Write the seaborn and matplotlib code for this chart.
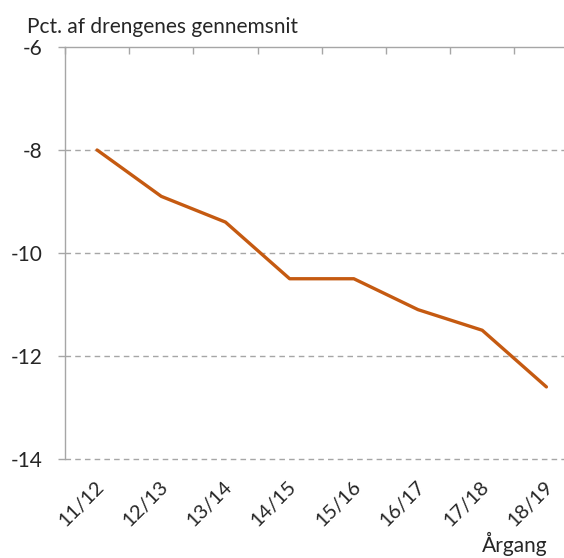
import numpy as np
import pandas as pd
import matplotlib
matplotlib.use("Agg")
import matplotlib.pyplot as plt
import matplotlib.transforms as mtransforms
from matplotlib.ticker import FixedLocator
import seaborn as sns

# data
years = ['11/12', '12/13', '13/14', '14/15', '15/16', '16/17', '17/18', '18/19']
values = [-8.0, -8.9, -9.4, -10.5, -10.5, -11.1, -11.5, -12.6]
y_ticks = [-14, -12, -10, -8, -6]

df = pd.DataFrame({'year': years, 'value': values})

sns.set_style("white")
plt.rcParams['font.family'] = ['Lato', 'DejaVu Sans']

fig = plt.figure(figsize=(5.64, 5.58), dpi=100)
ax = fig.add_axes([0.1152, 0.1774, 0.9105, 0.7384])

sns.lineplot(data=df, x='year', y='value', ax=ax, color='#C55A11',
             linewidth=2.4, sort=False)

ax.set_xlim(-0.5, 7.5)
ax.set_ylim(-14, -6)

grey = '#A6A6A6'
# dashed gridlines
for v in y_ticks[:-1]:
    ax.axhline(v, color=grey, linestyle=(0, (4, 3)), linewidth=1.0, zorder=0,
               clip_on=False)

ax.set_yticks(y_ticks)
ax.set_yticklabels([str(v) for v in y_ticks], fontsize=15)
ax.tick_params(axis='y', which='major', left=True, length=5, width=1,
               color=grey, pad=11, direction='out')

# category labels at bottom, boundary tick marks on top axis
ax.set_xticks(range(len(years)))
ax.set_xticklabels(years, rotation=45, ha='right', va='center',
                   rotation_mode='anchor', fontsize=14.5)
ax.tick_params(axis='x', which='major', bottom=True, top=False, length=0, pad=18)
shift = mtransforms.ScaledTranslation(4 / 100, 0, fig.dpi_scale_trans)
for lab in ax.get_xticklabels():
    lab.set_transform(lab.get_transform() + shift)
ax.xaxis.set_minor_locator(FixedLocator(np.arange(-0.5, 8, 1)))
ax.tick_params(axis='x', which='minor', bottom=False, top=True,
               direction='in', length=5, width=1, color=grey)

for side in ['bottom', 'right']:
    ax.spines[side].set_visible(False)
for side in ['left', 'top']:
    ax.spines[side].set_color(grey)
    ax.spines[side].set_linewidth(1.0)

ax.set_xlabel('')
ax.set_ylabel('')

fig.text(27 / 564, 1 - 27 / 558, 'Pct. af drengenes gennemsnit', fontsize=15,
         ha='left', va='center')
fig.text(548 / 564, 1 - 544 / 558, 'Årgang', fontsize=15, ha='right', va='center')

fig.savefig('out.png', dpi=100)
